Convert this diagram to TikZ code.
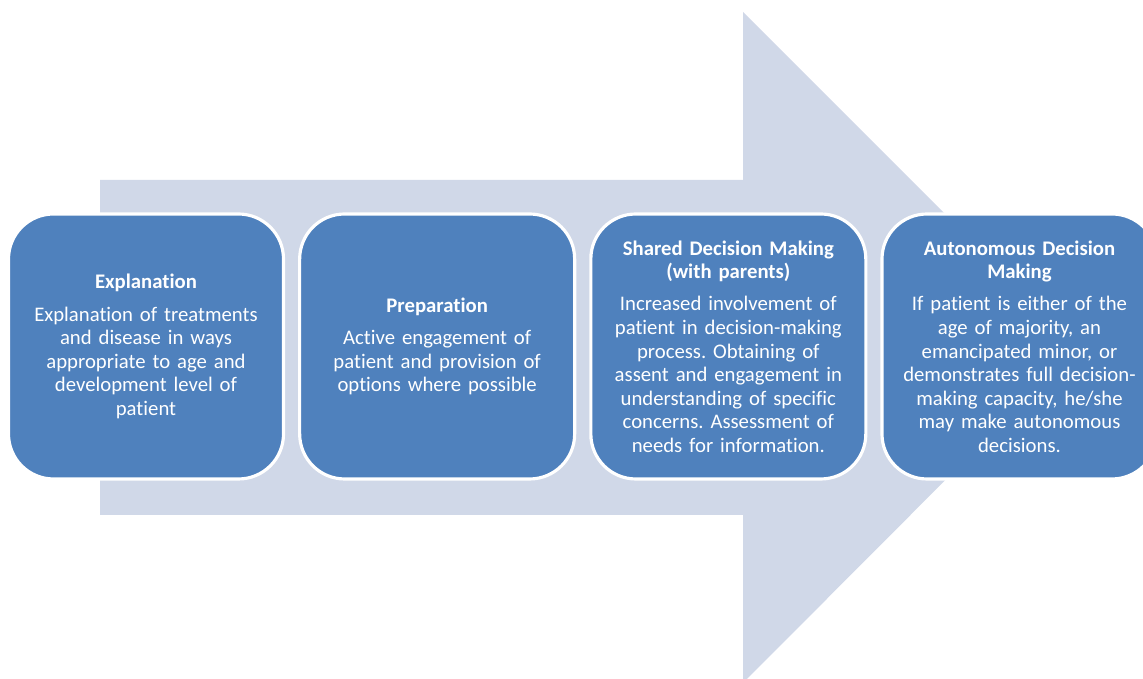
\documentclass[tikz,border=0pt]{standalone}
\usepackage{fontspec}
\setmainfont{Carlito}[Ligatures=NoCommon]
\usetikzlibrary{positioning}

\definecolor{stageblue}{HTML}{4F81BD}
\definecolor{arrowgrey}{HTML}{D0D8E8}

\begin{document}
\frenchspacing
\begin{tikzpicture}[font=\fontsize{11.8}{13.4}\selectfont,
  stage/.style={draw=white, line width=1.8pt, fill=stageblue, text=white,
    rounded corners=0.9cm, minimum width=5.5cm, minimum height=5.3cm,
    text width=5.1cm, inner sep=0pt, align=center},
  node distance=0.26cm]

  % Fixed page size (reference proportions)
  \useasboundingbox (0,0) rectangle (22.86,13.58);

  % Big background arrow: shaft and head
  \fill[arrowgrey] (2.0,3.28) -- (2.0,9.98) -- (14.86,9.98) -- (14.86,13.34)
        -- (21.56,6.64) -- (14.86,-0.08) -- (14.86,3.28) -- cycle;

  % Stages of decision making, left to right
  \node[stage] (expl) at (2.92,6.65)
        {\textbf{Explanation}\\[5pt]
         Explanation of treatments\\ and disease in ways\\
         appropriate to age and\\ development level of\\ patient};
  \node[stage, right=of expl] (prep)
        {\textbf{Preparation}\\[5pt]
         Active engagement of\\ patient and provision of\\
         options where possible};
  \node[stage, right=of prep] (shared)
        {\textbf{Shared Decision Making}\\ \textbf{(with parents)}\\[5pt]
         Increased involvement of\\ patient in decision-making\\
         process. Obtaining of\\ assent and engagement in\\
         understanding of specific\\ concerns. Assessment of\\
         needs for information.};
  \node[stage, right=of shared] (auto)
        {\textbf{Autonomous Decision}\\ \textbf{Making}\\[5pt]
         If patient is either of the\\ age of majority, an\\
         emancipated minor, or\\ demonstrates full decision-\\
         making capacity, he/she\\ may make autonomous\\ decisions.};

\end{tikzpicture}
\end{document}
